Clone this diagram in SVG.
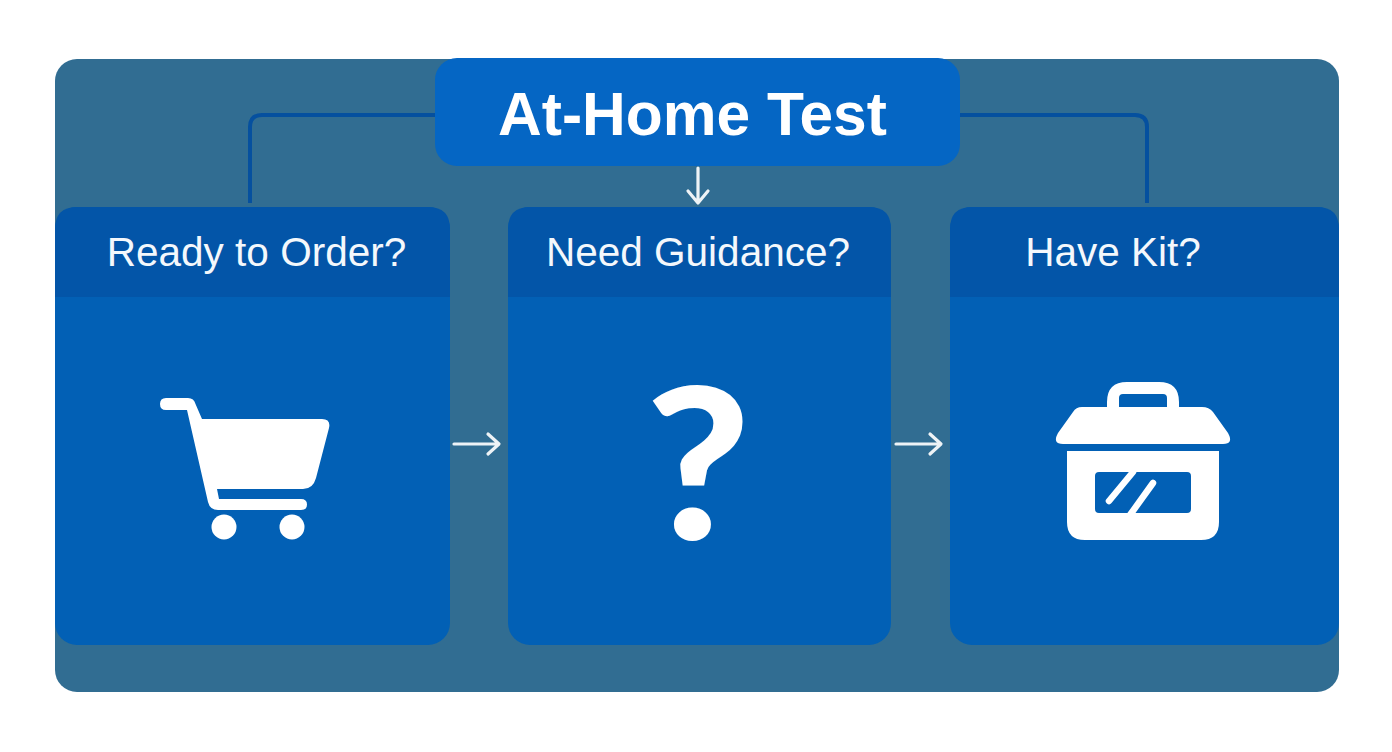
<svg xmlns="http://www.w3.org/2000/svg" width="1392" height="752" viewBox="0 0 1392 752">
<style>
.card{fill:#0260b5}
.head{fill:#0355a8}
.label{font-family:"Liberation Sans",Arial,sans-serif;font-size:40.500px;fill:#f4f8fc;text-anchor:middle}
.link{fill:none;stroke:#05509f;stroke-width:4}
.arrow{fill:none;stroke:#eef3f6;stroke-width:3.200;stroke-linecap:round;stroke-linejoin:round}
.icon{fill:#fff}
</style>
<rect width="1392" height="752" fill="#fff"/>
<rect id="panel" x="55" y="59" width="1284" height="633" rx="22" fill="#316d92"/>
<g id="connectors">
<path class="link" d="M436 115H262Q250 115 250 127V203"/>
<path class="link" d="M959 115H1135Q1147 115 1147 127V203"/>
<path class="arrow" d="M698 168V202M688 191L698 203L708 191"/>
<path class="arrow" d="M454 444H498M488 434L499 444L488 454"/>
<path class="arrow" d="M896 444H940M930 434L941 444L930 454"/>
</g>
<g id="title">
<rect x="435" y="58" width="525" height="108" rx="22" fill="#0566c4"/>
<text x="692.500" y="135" text-anchor="middle" font-family="Liberation Sans, Arial, sans-serif" font-weight="700" font-size="60.500" fill="#fff">At-Home Test</text>
</g>
<g id="card-order">
<rect class="card" x="55" y="207" width="395" height="438" rx="22"/>
<path class="head" d="M55 297V229Q55 207 77 207H428Q450 207 450 229V297Z"/>
<text class="label" x="256.500" y="266">Ready to Order?</text>
<path class="icon" d="M166 398H188Q194 398 195.500 404L202 419H322Q331 419 329 428L316 478Q313 489 303 489H217L219 499H301Q307 499 307 504.500Q307 510 301 510H218Q210 510 208 502L187 410H166Q160 410 160 404Q160 398 166 398Z"/>
<circle class="icon" cx="224" cy="527" r="12.500"/>
<circle class="icon" cx="292" cy="527" r="12.500"/>
</g>
<g id="card-guidance">
<rect class="card" x="508" y="207" width="383" height="438" rx="22"/>
<path class="head" d="M508 297V229Q508 207 530 207H869Q891 207 891 229V297Z"/>
<text class="label" x="698" y="266">Need Guidance?</text>
<text transform="translate(698 540) scale(1.080 1)" text-anchor="middle" font-family="Lato, sans-serif" font-weight="900" font-size="210" fill="#fff">?</text>
</g>
<g id="card-kit">
<rect class="card" x="950" y="207" width="389" height="438" rx="22"/>
<path class="head" d="M950 297V229Q950 207 972 207H1317Q1339 207 1339 229V297Z"/>
<text class="label" x="1113" y="266">Have Kit?</text>
<path class="icon" fill-rule="evenodd" d="M1107 408V402Q1107 382 1127 382H1159Q1179 382 1179 402V408ZM1119 407H1167V398Q1167 394 1163 394H1123Q1119 394 1119 398Z"/>
<path class="icon" d="M1082 407H1202Q1209 407 1213 412L1228 433Q1234 444 1223 444H1063Q1052 444 1058 433L1073 412Q1076 407 1082 407Z"/>
<path class="icon" fill-rule="evenodd" d="M1067 451H1219V522Q1219 540 1201 540H1085Q1067 540 1067 522ZM1099 472Q1095 472 1095 476V509Q1095 513 1099 513H1187Q1191 513 1191 509V476Q1191 472 1187 472Z"/>
<path d="M1109 501L1133 472M1153 483L1130 515" fill="none" stroke="#fff" stroke-width="6.500" stroke-linecap="round"/>
</g>
</svg>
